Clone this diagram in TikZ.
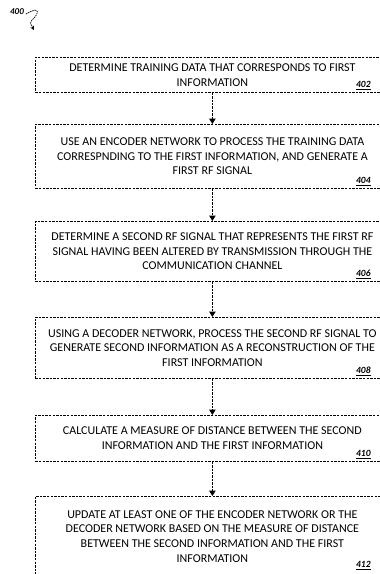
\documentclass[tikz,border=0pt]{standalone}
\usepackage{fontspec}
\setmainfont{Carlito}
\usetikzlibrary{arrows.meta}
\tikzset{
  passo/.style={draw, dash pattern=on 2.4pt off 1.2pt, line width=0.8pt,
    minimum width=354pt, anchor=north west, align=center, inner sep=0pt,
    font=\fontsize{12}{14.6}\selectfont},
  freccia/.style={dash pattern=on 2.4pt off 1pt, line width=1.1pt,
    -{Triangle[width=6.5pt,length=5.5pt]}},
  numero/.style={anchor=south east, inner sep=0pt,
    font=\fontsize{9.5}{10}\selectfont\itshape\bfseries}
}
\begin{document}
\begin{tikzpicture}[x=1pt,y=-1pt]
    \useasboundingbox (0,0) rectangle (380,574);

    % Etichetta della figura
    \node[font=\fontsize{9}{9}\selectfont\itshape\bfseries, inner sep=0pt] (f400) at (17,12) {400};
    \coordinate (f400p) at (34,30);
    \draw[dash pattern=on 1.5pt off 0.8pt, line width=0.7pt, -{Stealth[length=4pt,width=4pt]}]
        (f400.east) ++(2pt,-2pt) .. controls (41,5) and (39,14) .. (32,20)
        .. controls (30,23) .. (f400p);

    % Disegna i passi
    \node[passo, minimum height=35pt] (b402) at (35,57)
        {DETERMINE TRAINING DATA THAT CORRESPONDS TO FIRST\\ INFORMATION};
    \node[passo, minimum height=64pt] (b404) at (35,124)
        {USE AN ENCODER NETWORK TO PROCESS THE TRAINING DATA\\
         CORRESPNDING TO THE FIRST INFORMATION, AND GENERATE A\\
         FIRST RF SIGNAL};
    \node[passo, minimum height=60pt] (b406) at (35,221)
        {DETERMINE A SECOND RF SIGNAL THAT REPRESENTS THE FIRST RF\\
         SIGNAL HAVING BEEN ALTERED BY TRANSMISSION THROUGH THE\\
         COMMUNICATION CHANNEL};
    \node[passo, minimum height=61pt] (b408) at (35,317)
        {USING A DECODER NETWORK, PROCESS THE SECOND RF SIGNAL TO\\
         GENERATE SECOND INFORMATION AS A RECONSTRUCTION OF THE\\
         FIRST INFORMATION};
    \node[passo, minimum height=46pt] (b410) at (35,415)
        {CALCULATE A MEASURE OF DISTANCE BETWEEN THE SECOND\\
         INFORMATION AND THE FIRST INFORMATION};
    \node[passo, minimum height=80pt] (b412) at (35,496)
        {UPDATE AT LEAST ONE OF THE ENCODER NETWORK OR THE\\
         DECODER NETWORK BASED ON THE MEASURE OF DISTANCE\\
         BETWEEN THE SECOND INFORMATION AND THE FIRST\\
         INFORMATION};

    % Numeri dei passi
    \foreach \n/\dy in {402/3, 404/3, 406/3, 408/3, 410/3, 412/7}
        \node[numero] (n\n) at ([xshift=-19pt,yshift=\dy pt]b\n.south east) {\underline{\n}};

    % Frecce tra i passi
    \draw[freccia] (b402) -- (b404);
    \draw[freccia] (b404) -- (b406);
    \draw[freccia] (b406) -- (b408);
    \draw[freccia] (b408) -- (b410);
    \draw[freccia] (b410) -- (b412);
\end{tikzpicture}
\end{document}
